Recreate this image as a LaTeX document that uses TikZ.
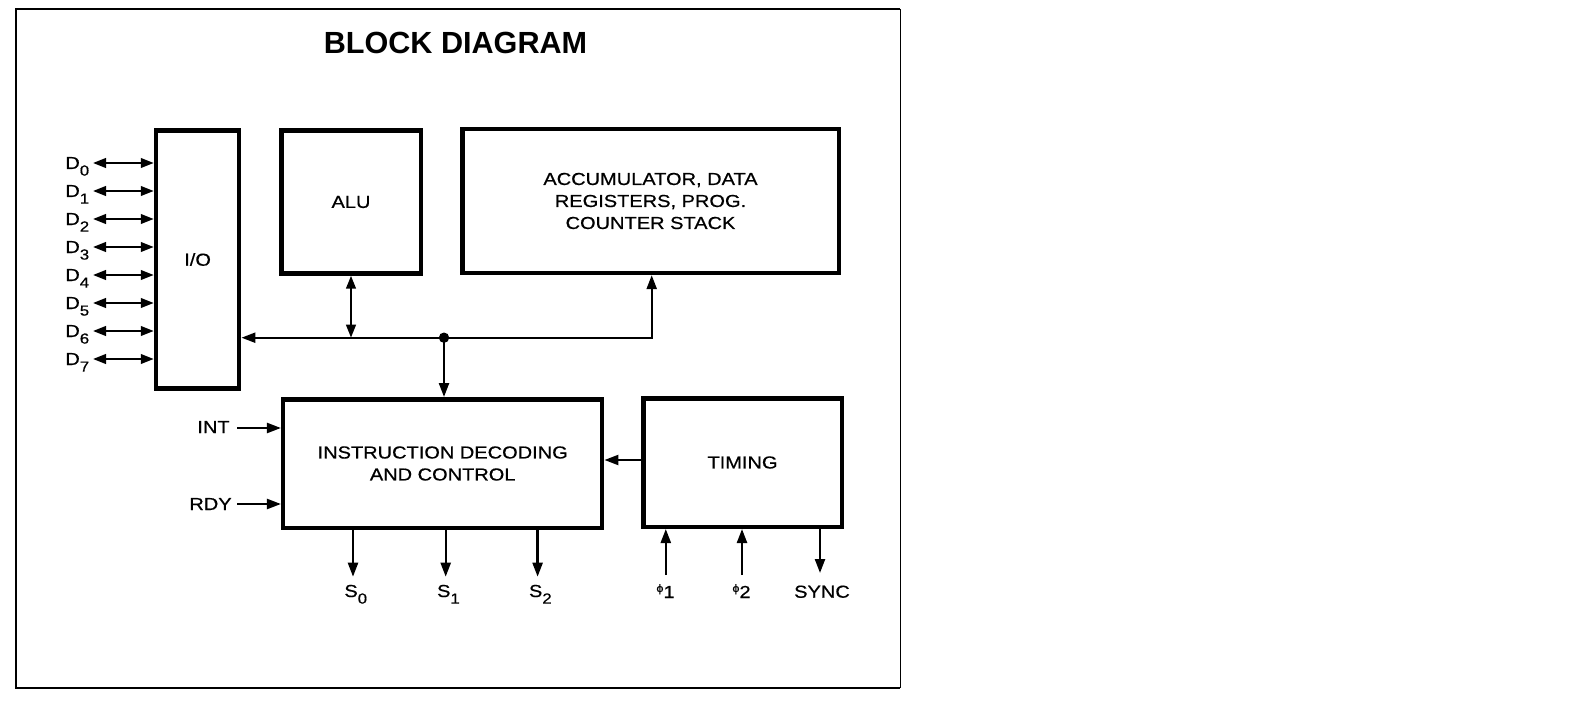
\documentclass[tikz,border=0pt]{standalone}
\usepackage{fontspec}
\setmainfont{Liberation Sans}[FakeStretch=1.15,FakeBold=0.6]
\newfontfamily\titlefont{Liberation Sans}
\usetikzlibrary{arrows.meta}
\newcommand\dsub[1]{\raisebox{-3.3pt}{\fontsize{7.3}{7.3}\selectfont #1}}
\newcommand\phisym{\raisebox{3pt}{\fontsize{5.5}{5.5}\selectfont ϕ}}
\begin{document}
\begin{tikzpicture}[x=0.5pt,y=-0.5pt,
  blk/.style={draw, line width=2.25pt, inner sep=0pt, align=center,
    font=\fontsize{8.7}{11}\selectfont},
  lbl/.style={inner sep=0pt, font=\fontsize{8.7}{11}\selectfont},
  conn/.style={line width=1.15pt},
  tip/.style={conn, -{Triangle[length=7pt,width=5pt]}},
  bi/.style={conn, {Triangle[length=6.5pt,width=4.8pt]}-{Triangle[length=6.5pt,width=4.8pt]}},
  framel/.style={line width=1pt}
]
\useasboundingbox (0,0) rectangle (1596,722);
% frame
\draw[framel] (900,9) -- (16,9) -- (16,688) -- (900,688);
\draw[line width=0.5pt] (900,9) -- (900,688);
% title
\node[inner sep=0pt, font=\titlefont\bfseries\fontsize{15.3}{18}\selectfont] (title) at (455.5,43) {BLOCK DIAGRAM};
% blocks
\node[blk, minimum width=41.6pt, minimum height=129pt] (io) at (197.6,259.5) {I/O};
\node[blk, minimum width=69.75pt, minimum height=71.45pt] (alu) at (351,202) {ALU};
\node[blk, minimum width=188.25pt, minimum height=71.9pt] (acc) at (650.5,201) {ACCUMULATOR, DATA\\REGISTERS, PROG.\\COUNTER STACK};
\node[blk, minimum width=159.5pt, minimum height=64.25pt] (idc) at (442.7,463.5) {INSTRUCTION DECODING\\AND CONTROL};
\node[blk, minimum width=99.25pt, minimum height=64.25pt] (timing) at (742.5,462.5) {TIMING};
% data lines
\foreach \i in {0,...,7}{
  \pgfmathsetmacro{\yy}{163+28*\i}
  \pgfmathsetmacro{\yb}{169+28*\i}
  \node[lbl, anchor=base west] (d\i) at (65,\yb) {D\dsub{\i}};
  \coordinate (dl\i) at (93,\yy);
  \draw[bi] (dl\i) -- (dl\i -| io.west);
}
% bus
\coordinate (bus) at (444,337.7);
\coordinate (accin) at (651.7,337.7);
\draw[tip] (bus) -- (bus -| io.east);
\draw[tip] (bus) -- (accin) -- (accin |- acc.south);
\draw[bi] (alu.south) -- (alu.south |- bus);
\draw[tip] (bus) -- (bus |- idc.north);
\fill (bus) circle (2.6pt);
% INT, RDY
\node[lbl, anchor=base west] (int) at (197,433) {INT};
\node[lbl, anchor=base west] (rdy) at (189,510) {RDY};
\coordinate (intc) at (237,428);
\coordinate (rdyc) at (237,504);
\draw[tip] (intc) -- (intc -| idc.west);
\draw[tip] (rdyc) -- (rdyc -| idc.west);
% timing to idc
\coordinate (tmy) at (620,460);
\draw[tip] (tmy -| timing.west) -- (tmy -| idc.east);
% status outputs
\foreach \n/\xx in {0/353,1/445.7,2/537.6}{
  \coordinate (se\n) at (\xx,576.7);
  \draw[tip] (se\n |- idc.south) -- (se\n);
  \node[lbl, anchor=base west] (s\n) at ([xshift=-4.5pt]\xx,597) {S\dsub{\n}};
}
% clock inputs
\coordinate (p1) at (665.8,575);
\coordinate (p2) at (742,575);
\draw[tip] (p1) -- (p1 |- timing.south);
\draw[tip] (p2) -- (p2 |- timing.south);
\node[lbl, anchor=base west] (ph1) at (656,598) {\phisym 1};
\node[lbl, anchor=base west] (ph2) at (732,598) {\phisym 2};
% sync
\coordinate (sy) at (820,573);
\draw[tip] (sy |- timing.south) -- (sy);
\node[lbl, anchor=base] (sync) at (822,597.7) {SYNC};
\end{tikzpicture}
\end{document}
